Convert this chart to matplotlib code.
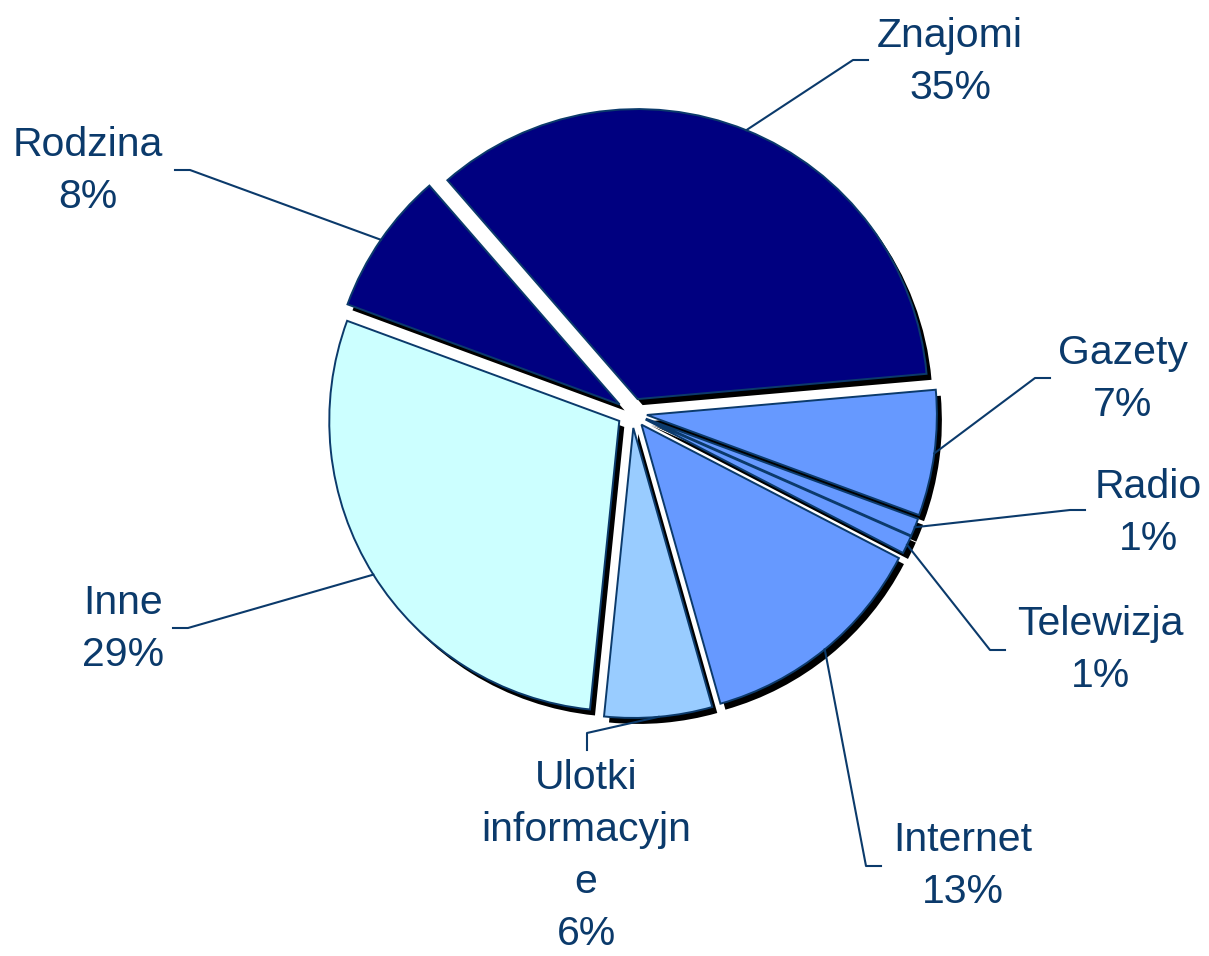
import matplotlib
matplotlib.use("Agg")
import matplotlib.pyplot as plt
from matplotlib.patches import Wedge
import numpy as np

# Data
categories = ["Znajomi", "Gazety", "Radio", "Telewizja", "Internet",
              "Ulotki\ninformacyjn\ne", "Inne", "Rodzina"]
shares = [35, 7, 1, 1, 13, 6, 29, 8]
colors = ["#000080", "#6699FF", "#6699FF", "#6699FF", "#6699FF",
          "#99CCFF", "#CCFFFF", "#000080"]

# Layout (image pixels): pie centre, label centres and leader elbows
cx, cy = 632, 413
label_xy = [(950, 62), (1123, 379), (1148, 513), (1100, 650),
            (963, 866), (586, 856), (123, 629), (88, 171)]
elbow_xy = [(853, 60), (1035, 378), (1070, 510), (990, 650),
            (866, 866), (587, 733), (188, 628), (190, 170)]
end_xy = [(868, 60), (1050, 378), (1085, 510), (1005, 650),
          (881, 866), (587, 750), (173, 628), (175, 170)]

text_col = "#0B3A6B"
edge_col = "#0B3A6B"


def to_data(p):
    return (p[0] - cx, cy - p[1])


fig = plt.figure(figsize=(12.09, 9.56), dpi=100)
ax = fig.add_axes([0, 0, 1, 1])

R = 290
wedges, _ = ax.pie(shares, radius=R, startangle=131, counterclock=False,
                   explode=[15] * len(shares), colors=colors,
                   wedgeprops=dict(edgecolor=edge_col, linewidth=1.4))

ax.set_xlim(-cx, 1209 - cx)
ax.set_ylim(-(956 - cy), cy)
ax.set_aspect("equal")
ax.axis("off")

# black drop shadow behind each slice
for w in wedges:
    w.set_zorder(3)
    sh = Wedge((w.center[0] + 5, w.center[1] - 6), w.r, w.theta1, w.theta2,
               facecolor="black", edgecolor="none", zorder=2)
    ax.add_patch(sh)

# labels with leader lines
for i, w in enumerate(wedges):
    mid = np.deg2rad((w.theta1 + w.theta2) / 2)
    sx = w.center[0] + R * np.cos(mid)
    sy = w.center[1] + R * np.sin(mid)
    ex, ey = to_data(elbow_xy[i])
    fx, fy = to_data(end_xy[i])
    ax.plot([sx, ex, fx], [sy, ey, fy], color=edge_col, lw=1.5, zorder=4)
    tx, ty = to_data(label_xy[i])
    ax.text(tx, ty, f"{categories[i]}\n{shares[i]}%", ha="center",
            va="center", fontsize=29.5, color=text_col,
            family="Liberation Sans", linespacing=1.47, zorder=5)

fig.savefig("out.png", dpi=100)
